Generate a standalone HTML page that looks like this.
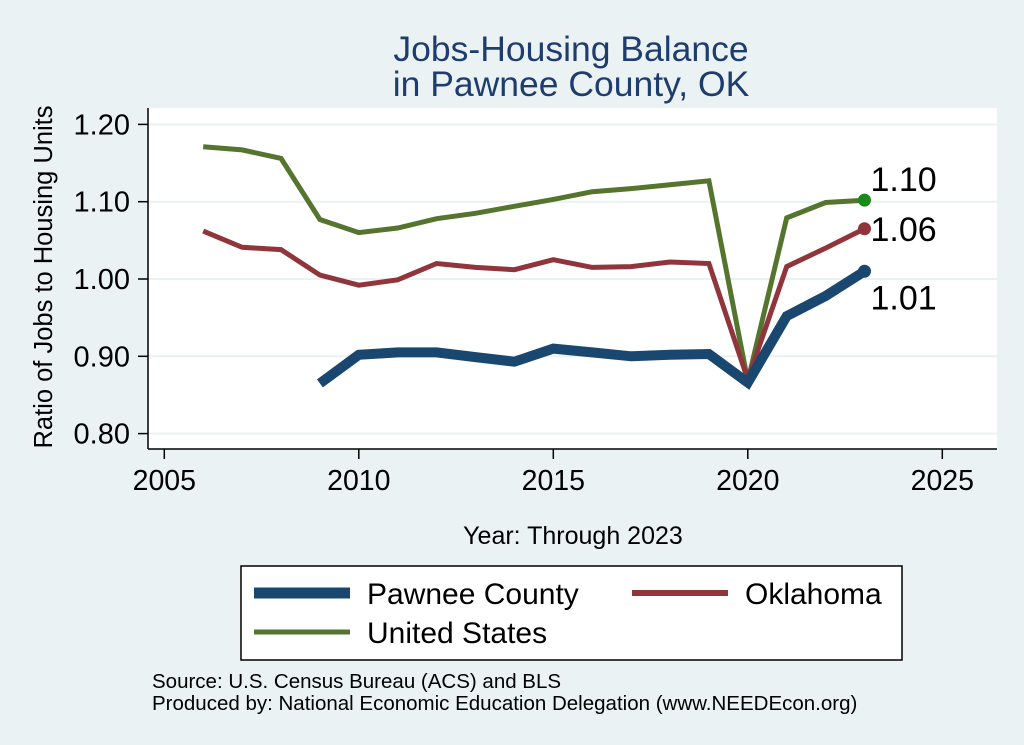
<!DOCTYPE html>
<html><head><meta charset="utf-8"><style>
body{margin:0;background:#eaf2f3;}
svg{display:block;font-family:"Liberation Sans",Arial,sans-serif;}
</style></head><body>
<svg id="chart" width="1024" height="745">
<rect x="0" y="0" width="1024" height="745" fill="#eaf2f3"/>
<text x="571" y="61" font-size="35.5" fill="#1e3d6e" text-anchor="middle">Jobs-Housing Balance</text>
<text x="571" y="96" font-size="35.5" fill="#1e3d6e" text-anchor="middle">in Pawnee County, OK</text>
<rect x="148" y="108" width="849" height="341" fill="#fff"/>
<g id="grid"></g><g id="axes"></g><g id="series"></g>
<text transform="translate(52,277) rotate(-90)" font-size="25.5" text-anchor="middle" fill="#000">Ratio of Jobs to Housing Units</text>
<text x="573" y="544" font-size="25" text-anchor="middle" fill="#000">Year: Through 2023</text>
<g>
<rect x="241" y="566" width="661" height="94" fill="#fff" stroke="#000" stroke-width="1.5"/>
<line x1="254" y1="593" x2="350" y2="593" stroke="#1a476f" stroke-width="11"/>
<text x="367" y="604" font-size="30">Pawnee County</text>
<line x1="632" y1="593" x2="728" y2="593" stroke="#90353b" stroke-width="6"/>
<text x="745" y="604" font-size="30">Oklahoma</text>
<line x1="254" y1="632" x2="350" y2="632" stroke="#55752f" stroke-width="5"/>
<text x="367" y="643" font-size="30">United States</text>
</g>
<text x="152" y="688" font-size="20.5">Source: U.S. Census Bureau (ACS) and BLS</text>
<text x="152" y="710" font-size="20.5">Produced by: National Economic Education Delegation (www.NEEDEcon.org)</text>
</svg>
<script>
const years=[2006,2007,2008,2009,2010,2011,2012,2013,2014,2015,2016,2017,2018,2019,2020,2021,2022,2023];
const usVals=[1.171,1.167,1.156,1.077,1.060,1.066,1.078,1.085,1.094,1.103,1.113,1.117,1.122,1.127,0.868,1.079,1.099,1.102];
const okVals=[1.062,1.041,1.038,1.005,0.992,0.999,1.020,1.015,1.012,1.025,1.015,1.016,1.022,1.020,0.870,1.016,1.040,1.065];
const pawneeVals=[null,null,null,0.865,0.902,0.905,0.905,0.899,0.893,0.910,0.905,0.900,0.902,0.903,0.866,0.952,0.978,1.010];
const xTicks=[2005,2010,2015,2020,2025];
const yTicks=[0.80,0.90,1.00,1.10,1.20];
const endLabels=["1.10","1.06","1.01"];
const NS="http://www.w3.org/2000/svg";
function X(v){return 164.3+(v-2005)*38.9;}
function Y(v){return 279-(v-1.0)*773;}
function mk(t,a,p){const e=document.createElementNS(NS,t);for(const k in a)e.setAttribute(k,a[k]);p.appendChild(e);return e;}
const grid=document.getElementById('grid'),axes=document.getElementById('axes'),ser=document.getElementById('series');
yTicks.forEach(v=>{
 const g=mk('line',{x1:148,x2:997,y1:Y(v),y2:Y(v),stroke:'#eaf2f3','stroke-width':2},grid);
 
 
 const t=mk('line',{x1:138,x2:148,y1:Y(v),y2:Y(v),stroke:'#000','stroke-width':1.5},axes);
 
 
 const l=mk('text',{x:130,y:Y(v)+10,'font-size':29,'text-anchor':'end'},axes);
 l.textContent=v.toFixed(2);
 
 
});
xTicks.forEach(v=>{
 const t=mk('line',{x1:X(v),x2:X(v),y1:449,y2:459,stroke:'#000','stroke-width':1.5},axes);
 
 
 const l=mk('text',{x:X(v),y:490,'font-size':28.5,'text-anchor':'middle'},axes);
 l.textContent=v;
 
 
});
const ya=mk('line',{x1:148,x2:148,y1:108,y2:449,stroke:'#000','stroke-width':1.5},axes);


const xa=mk('line',{x1:148,x2:997,y1:449,y2:449,stroke:'#000','stroke-width':1.5},axes);


function line(vals,color,w,name){
 const pts=[];vals.forEach((v,i)=>{if(v!=null)pts.push(X(years[i]).toFixed(1)+','+Y(v).toFixed(1));});
 const p=mk('polyline',{points:pts.join(' '),fill:'none',stroke:color,'stroke-width':w,'stroke-linejoin':'miter'},ser);
 
 
}
line(usVals,'#55752f',5,'line-united-states');
line(okVals,'#90353b',5,'line-oklahoma');
line(pawneeVals,'#1a476f',10,'line-pawnee-county');
const last=years.length-1;
[[usVals,'#1a8a1a',0,-9,'end-label-us'],[okVals,'#90353b',1,12,'end-label-oklahoma'],[pawneeVals,'#1a476f',2,38,'end-label-pawnee']].forEach(d=>{
 const c=mk('circle',{cx:X(years[last]),cy:Y(d[0][last]),r:6.5,fill:d[1]},ser);
 
 
 const t=mk('text',{x:X(years[last])+6,y:Y(d[0][last])+d[3],'font-size':34},ser);
 t.textContent=endLabels[d[2]];
 
 
});
</script>
</body></html>
